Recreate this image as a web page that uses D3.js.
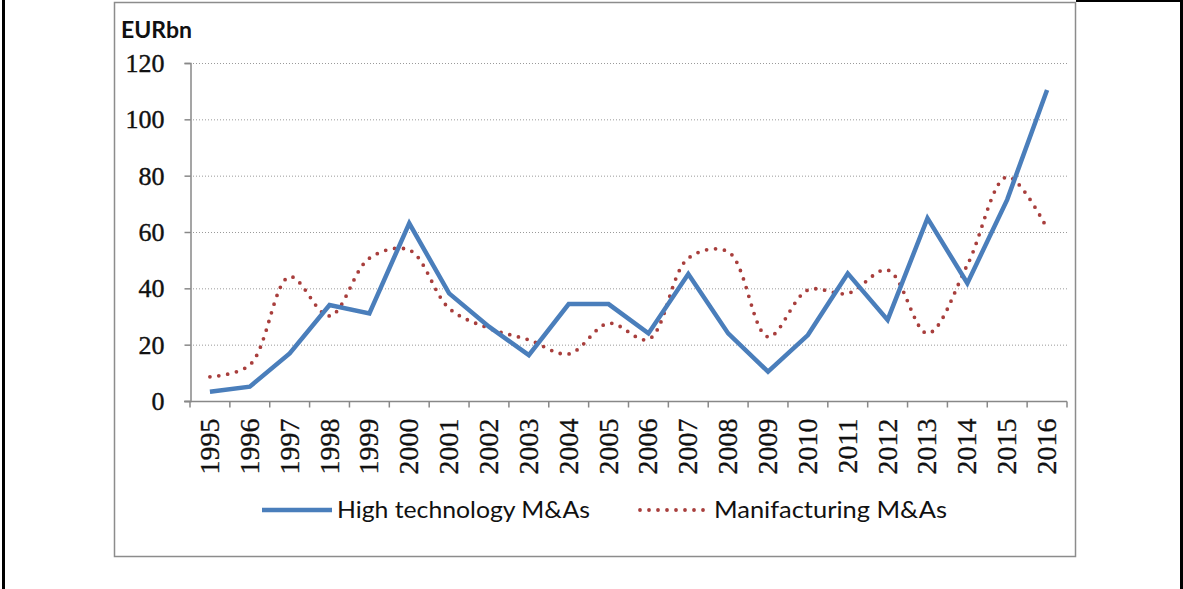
<!DOCTYPE html>
<html lang="en">
<head>
    <meta charset="UTF-8">
    <title>High technology vs manufacturing M&As</title>
    <script src="https://d3js.org/d3.v7.min.js"></script>
    <style>
        body { margin: 0; background: #ffffff; }
        #chart { display: block; }
        .ylab, .xlab { font-family: "Liberation Serif", "Times New Roman", serif; fill: #111; }
        .sans { font-family: Lato, "Open Sans", sans-serif; fill: #111; }
    </style>
</head>
<body>
<svg id="chart" width="1183" height="589"></svg>
<script>
// data
const years = ["1995","1996","1997","1998","1999","2000","2001","2002","2003","2004","2005",
               "2006","2007","2008","2009","2010","2011","2012","2013","2014","2015","2016"];
const highTech = [3.3, 5.1, 16.9, 34.1, 31.1, 63.1, 38.2, 26.4, 16.3, 34.4, 34.4,
                  24.0, 45.1, 24.0, 10.4, 23.4, 45.3, 28.8, 64.9, 41.8, 71.5, 110.4];
const manufacturing = [8.6, 12.8, 44.1, 30.2, 50.7, 53.6, 32.9, 25.8, 21.7, 16.7, 27.6,
                       21.9, 50.7, 53.0, 22.8, 39.4, 38.2, 46.5, 24.0, 48.3, 79.6, 61.3];
const yTicks = [0, 20, 40, 60, 80, 100, 120];
const seriesNames = ["High technology M&As", "Manifacturing M&As"];

const svg = d3.select("#chart");

// outer black frame bits (left / right edges, top piece right of chart box)
svg.append("rect").attr("x", 2).attr("y", 0).attr("width", 3).attr("height", 589).attr("fill", "#000");
svg.append("rect").attr("x", 1180).attr("y", 0).attr("width", 3).attr("height", 589).attr("fill", "#000");
svg.append("rect").attr("x", 1076).attr("y", 0).attr("width", 107).attr("height", 2).attr("fill", "#000");

// chart box
svg.append("rect")
    .attr("x", 114.5).attr("y", 2.5).attr("width", 961).attr("height", 554)
    .attr("fill", "#fff").attr("stroke", "#8c8c8c").attr("stroke-width", 1.5);

const x = d3.scaleBand().domain(years).range([190, 1067]).padding(0);
const y = d3.scaleLinear().domain([0, 120]).range([401, 63]);

// gridlines
svg.append("g").selectAll("line")
    .data(yTicks.filter(d => d > 0))
    .enter().append("line")
    .attr("x1", 190).attr("x2", 1067)
    .attr("y1", d => y(d) + 0.5).attr("y2", d => y(d) + 0.5)
    .attr("stroke", "#9a9a9a").attr("stroke-width", 1)
    .attr("stroke-dasharray", "1,2");

// y axis
const yAxis = svg.append("g")
    .attr("transform", "translate(190.5,0)")
    .call(d3.axisLeft(y).tickValues(yTicks).tickSize(6).tickPadding(20));
yAxis.select(".domain").attr("stroke", "#888").attr("stroke-width", 1.5);
yAxis.selectAll(".tick line").attr("stroke", "#888").attr("stroke-width", 1.5);
yAxis.selectAll(".tick text")
    .attr("class", "ylab")
    .style("font-size", "26px")
    .style("stroke", "#111").style("stroke-width", 0.4)
    .attr("dy", "0.33em");

// x axis with ticks at category boundaries
const xAxisG = svg.append("g").attr("transform", "translate(0,401.5)");
xAxisG.append("line")
    .attr("x1", 184).attr("x2", 1067)
    .attr("stroke", "#888").attr("stroke-width", 1.5);
xAxisG.selectAll("line.tk")
    .data(years.map(d => x(d)).concat([x.range()[1]]))
    .enter().append("line")
    .attr("class", "tk")
    .attr("x1", d => d).attr("x2", d => d)
    .attr("y1", 0).attr("y2", 6)
    .attr("stroke", "#888").attr("stroke-width", 1.5);
xAxisG.selectAll("text")
    .data(years)
    .enter().append("text")
    .attr("class", "xlab")
    .attr("transform", d => `translate(${x(d) + x.bandwidth() / 2 + 9},17) rotate(-90)`)
    .attr("text-anchor", "end")
    .style("font-size", "28px")
    .style("stroke", "#111").style("stroke-width", 0.3)
    .text(d => d);

// unit label
svg.append("text")
    .attr("class", "sans")
    .attr("x", 121).attr("y", 38)
    .style("font-size", "23px").style("font-weight", "bold")
    .text("EURbn");

const cx = d => x(d) + x.bandwidth() / 2;

// manufacturing (smoothed, dotted)
const lineSmooth = d3.line()
    .x((d, i) => cx(years[i]))
    .y(d => y(d))
    .curve(d3.curveCatmullRom.alpha(0.5));
svg.append("path")
    .datum(manufacturing)
    .attr("d", lineSmooth)
    .attr("fill", "none")
    .attr("stroke", "#a83e3c")
    .attr("stroke-width", 3.8)
    .attr("stroke-linecap", "round")
    .attr("stroke-dasharray", "0,9");

// high tech (straight, solid)
const lineStraight = d3.line()
    .x((d, i) => cx(years[i]))
    .y(d => y(d));
svg.append("path")
    .datum(highTech)
    .attr("d", lineStraight)
    .attr("fill", "none")
    .attr("stroke", "#4a7ebb")
    .attr("stroke-width", 4.5)
    .attr("stroke-linejoin", "miter");

// legend
const legend = svg.append("g");
legend.append("line")
    .attr("x1", 262).attr("x2", 332).attr("y1", 510).attr("y2", 510)
    .attr("stroke", "#4a7ebb").attr("stroke-width", 4.5);
legend.append("text")
    .attr("class", "sans")
    .attr("x", 337).attr("y", 518)
    .attr("textLength", 253).attr("lengthAdjust", "spacingAndGlyphs")
    .style("font-size", "24px")
    .text(seriesNames[0]);
legend.append("line")
    .attr("x1", 640).attr("x2", 706).attr("y1", 510).attr("y2", 510)
    .attr("stroke", "#a83e3c").attr("stroke-width", 3.8)
    .attr("stroke-linecap", "round").attr("stroke-dasharray", "0,9");
legend.append("text")
    .attr("class", "sans")
    .attr("x", 714).attr("y", 518)
    .attr("textLength", 233).attr("lengthAdjust", "spacingAndGlyphs")
    .style("font-size", "24px")
    .text(seriesNames[1]);
</script>
</body>
</html>
